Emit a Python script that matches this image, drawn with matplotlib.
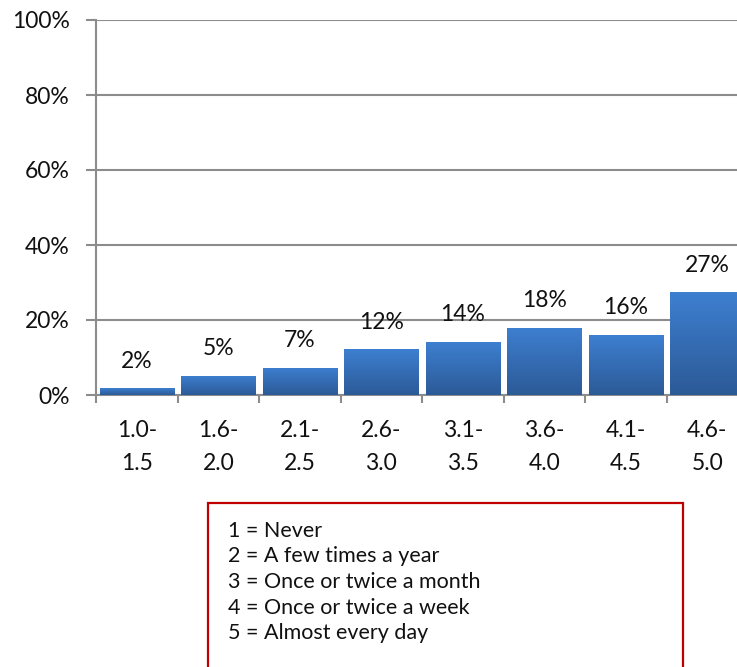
import numpy as np
import matplotlib
matplotlib.use("Agg")
from matplotlib import pyplot as plt
from matplotlib.patches import Rectangle

plt.rcParams['font.family'] = ['Lato', 'DejaVu Sans']

# data
categories = ["1.0-\n1.5", "1.6-\n2.0", "2.1-\n2.5", "2.6-\n3.0",
              "3.1-\n3.5", "3.6-\n4.0", "4.1-\n4.5", "4.6-\n5.0"]
values = [1.8, 5.2, 7.3, 12.2, 14.1, 18.0, 16.0, 27.4]
yticks = [0, 20, 40, 60, 80, 100]
key_lines = ["1 = Never", "2 = A few times a year", "3 = Once or twice a month",
             "4 = Once or twice a week", "5 = Almost every day"]

GRAY = '#8c8c8c'
TXT = '#111111'

fig = plt.figure(figsize=(7.37, 6.67), dpi=100)
ax = fig.add_axes([96/737, 1 - 395/667, 652/737, 375/667])

x = np.arange(len(values))
bars = ax.bar(x, values, width=0.91, color='#3a72bf', zorder=3)

# vertical gradient inside every bar
grad = np.linspace(0, 1, 100).reshape(-1, 1)
cmap = matplotlib.colors.LinearSegmentedColormap.from_list('g', ['#2c5a97', '#3d7fd0'])
for b in bars:
    x0, y0 = b.get_x(), b.get_y()
    im = ax.imshow(grad, extent=[x0, x0 + b.get_width(), y0, y0 + b.get_height()],
                   origin='lower', aspect='auto', cmap=cmap, zorder=4)
    im.set_clip_path(b)

for xi, v in zip(x, values):
    ax.annotate(f"{round(v)}%", (xi, v), xytext=(0, 12), textcoords='offset points',
                ha='center', va='bottom', fontsize=16.5, color=TXT, zorder=5)

ax.set_xlim(-0.5, len(values) - 0.5)
ax.set_ylim(0, 100)
ax.set_yticks(yticks)
ax.set_yticklabels([f"{t}%" for t in yticks])
ax.yaxis.grid(True, color=GRAY, linewidth=1.5, zorder=0)
ax.set_axisbelow(True)

ax.set_xticks(x)
ax.set_xticklabels(categories, linespacing=1.7)
ax.set_xticks(np.arange(len(values) + 1) - 0.5, minor=True)
ax.tick_params(axis='x', which='major', length=0, pad=18, labelsize=16.5, labelcolor=TXT)
ax.tick_params(axis='x', which='minor', length=6, width=1.5, color=GRAY)
ax.tick_params(axis='y', length=7, width=1.5, color=GRAY, pad=12, labelsize=16.5,
               labelcolor=TXT)

for s in ['top', 'right']:
    ax.spines[s].set_visible(False)
for s in ['left', 'bottom']:
    ax.spines[s].set_color(GRAY)
    ax.spines[s].set_linewidth(1.5)

# key box below the chart
fig.patches.append(Rectangle((208/737, -0.05), 475/737, 0.05 + 1 - 503/667,
                             transform=fig.transFigure, fill=False,
                             edgecolor='#c00000', linewidth=1.6))
for i, line in enumerate(key_lines):
    fig.text(228/737, 1 - (531 + 25.5*i)/667, line, fontsize=15.5, va='center',
             ha='left', color=TXT)

fig.savefig("out.png", dpi=100)
